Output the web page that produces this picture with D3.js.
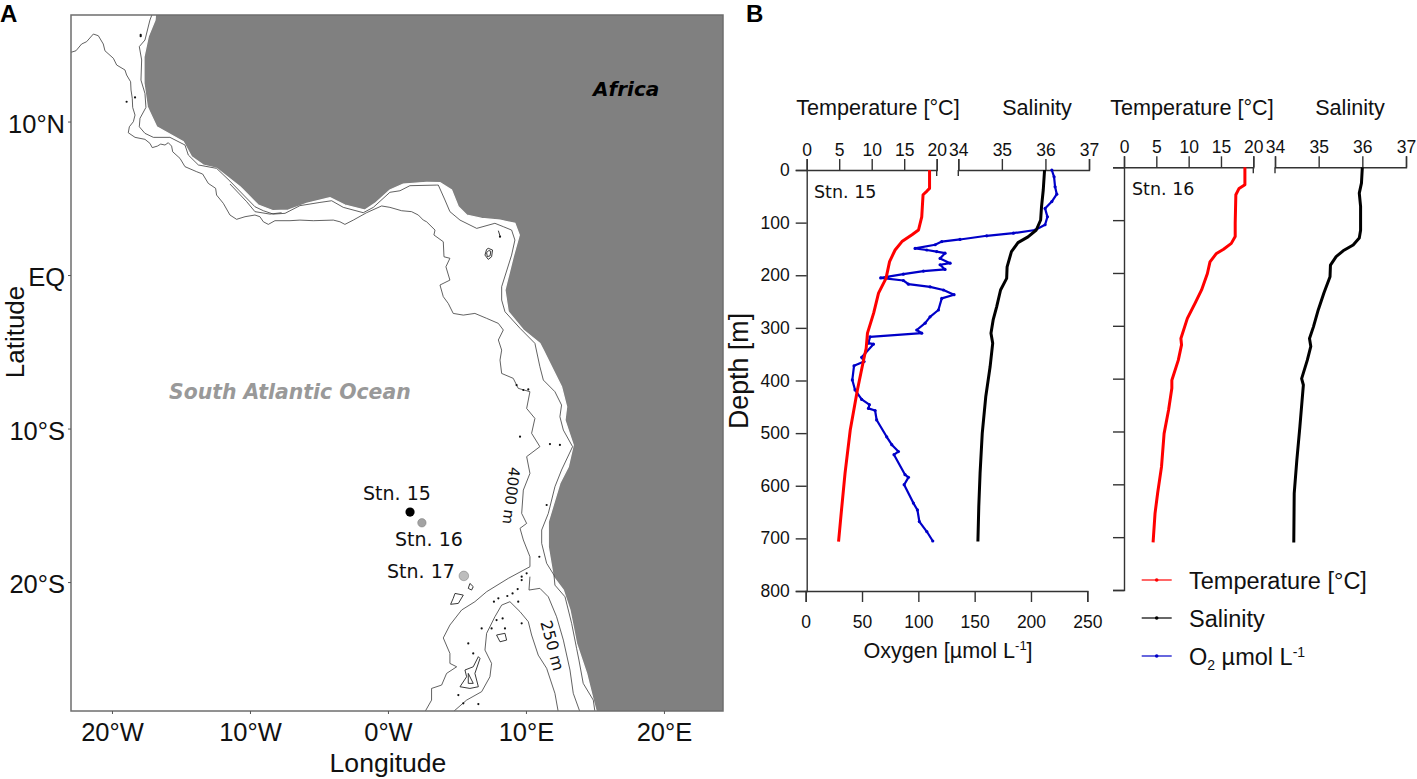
<!DOCTYPE html>
<html>
<head>
<meta charset="utf-8">
<script src="https://cdn.jsdelivr.net/npm/d3@7"></script>
<style>
body { margin: 0; background: #fff; }
svg { display: block; }
.map-text { font-family: "DejaVu Sans", sans-serif; }
.plot-text, .plot-axis text { font-family: "Liberation Sans", Arial, sans-serif; }
</style>
</head>
<body>
<svg id="chart" width="1417" height="779"></svg>
<script>
// map outlines, [lon, lat]
const coast = [[-16.8,17.5],[-16.88,16.61],[-17.37,15.53],[-17.68,14.22],[-17.68,12.49],[-17.44,10.97],[-16.76,9.66],[-14.83,8.69],[-14.23,7.71],[-13.38,7.17],[-12.42,6.95],[-10.72,5.75],[-10.48,5.54],[-9.40,4.56],[-8.31,4.19],[-7.22,4.23],[-5.89,4.67],[-4.20,5.04],[-3.12,4.56],[-1.67,4.23],[-0.94,4.67],[0.14,5.54],[1.11,5.93],[2.80,6.04],[3.77,6.02],[4.61,5.54],[5.10,4.45],[5.70,3.91],[6.79,3.69],[8.12,3.58],[9.20,3.37],[9.52,2.61],[9.08,1.19],[8.48,-0.98],[8.72,-2.39],[9.81,-3.58],[11.01,-4.45],[11.26,-4.89],[11.86,-5.97],[12.58,-7.27],[12.95,-8.58],[12.83,-9.45],[13.43,-11.07],[13.07,-12.49],[12.46,-13.57],[11.62,-16.07],[11.62,-17.70],[11.98,-19.65],[12.71,-20.52],[13.19,-21.82],[13.67,-24.00],[14.40,-25.95],[14.88,-27.69],[15.12,-28.51],[25,-28.51],[25,17.5]];

const contour4000 = [[-22.97,14.51],[-22.61,14.61],[-22.20,15.05],[-21.84,15.20],[-21.35,15.70],[-20.99,15.59],[-20.63,15.05],[-20.51,14.61],[-19.90,14.12],[-19.66,13.68],[-19.06,13.36],[-18.94,13.03],[-18.65,12.59],[-18.62,12.05],[-18.53,11.51],[-18.50,10.92],[-18.33,10.42],[-18.45,9.99],[-18.74,9.66],[-18.82,9.27],[-18.33,8.97],[-17.61,8.84],[-17.25,8.58],[-17.08,8.30],[-16.71,8.40],[-16.47,8.53],[-16.16,8.47],[-15.92,8.62],[-15.68,8.40],[-15.60,8.03],[-15.07,7.60],[-14.71,7.06],[-13.86,6.73],[-13.43,6.58],[-13.02,5.97],[-12.49,5.65],[-12.42,5.21],[-11.93,4.67],[-11.45,3.91],[-10.97,3.63],[-10.36,3.80],[-9.64,3.91],[-9.28,3.80],[-9.03,3.47],[-8.67,3.30],[-8.19,3.54],[-7.10,3.54],[-6.38,3.58],[-5.41,3.54],[-3.96,3.58],[-3.48,3.47],[-3.12,3.30],[-2.51,3.58],[-1.55,4.06],[-0.46,4.50],[0.14,4.41],[0.99,4.19],[1.71,4.13],[2.20,3.91],[2.56,3.58],[2.80,3.47],[3.41,2.93],[3.33,2.61],[4.01,2.17],[4.06,1.19],[4.49,1.09],[4.20,0.54],[4.49,-0.33],[3.77,-0.65],[4.01,-1.41],[4.37,-1.85],[4.73,-2.50],[5.46,-2.61],[6.30,-2.50],[7.15,-2.82],[8.00,-3.15],[8.36,-3.58],[8.00,-4.23],[8.24,-4.89],[8.12,-5.54],[8.24,-6.41],[9.08,-6.73],[9.44,-7.38],[10.29,-7.60],[10.05,-8.69],[10.65,-9.34],[10.41,-10.31],[11.01,-11.18],[10.05,-11.83],[10.29,-12.92],[9.81,-14.01],[9.69,-15.53],[10.05,-16.18],[9.57,-16.50],[9.81,-17.26],[10.29,-18.35],[10.29,-19.00],[8.72,-19.76],[7.15,-20.63],[6.30,-21.28],[5.34,-21.82],[4.49,-22.80],[4.01,-23.64],[4.49,-24.65],[4.49,-25.30],[4.98,-25.52],[4.25,-25.95],[3.89,-26.71],[3.16,-26.93],[3.16,-27.69],[2.68,-28.45]];

const contourShelf = [[-17.0,17.2],[-17.25,16.61],[-17.61,15.31],[-18.02,14.88],[-17.85,14.01],[-17.90,12.70],[-17.61,11.83],[-17.54,10.92],[-17.97,10.21],[-18.02,9.66],[-17.61,9.23],[-17.00,8.97],[-15.80,8.97],[-14.71,8.47],[-14.47,7.82],[-13.74,7.17],[-12.42,6.95],[-11.45,6.12],[-9.64,4.45],[-9.03,4.19],[-8.31,3.97],[-7.46,4.02],[-6.38,4.52],[-4.93,4.73],[-4.08,4.84],[-3.24,4.41],[-1.79,4.06],[-1.06,4.41],[0.14,5.39],[0.87,5.49],[1.59,5.82],[3.53,5.86],[3.65,5.86],[4.13,4.89],[4.49,4.13],[5.22,3.58],[6.43,3.04],[7.75,3.37],[8.36,3.15],[8.96,2.93],[9.20,2.28],[8.96,1.30],[8.24,-0.76],[8.24,-1.63],[8.48,-2.39],[9.57,-3.47],[10.65,-4.45],[11.01,-5.97],[11.26,-6.84],[12.10,-7.60],[12.58,-8.47],[12.46,-9.23],[12.71,-10.10],[13.38,-11.18],[12.58,-12.70],[12.10,-13.79],[11.62,-15.53],[11.14,-16.61],[11.14,-17.48],[11.50,-18.78],[12.03,-19.54],[12.10,-20.20],[12.83,-20.96],[13.31,-22.69],[13.67,-24.32],[13.84,-25.08],[14.15,-26.60],[14.88,-27.69],[15.00,-28.45]];

const contourGulf = [[-11.45,5.93],[-10.24,4.78],[-9.64,4.13],[-8.55,3.97],[-7.71,4.06]];

const contour250 = [[10.29,-19.65],[10.22,-20.52],[11.01,-20.41],[11.62,-20.96],[12.22,-22.26],[12.71,-23.78],[13.19,-25.73],[13.43,-27.25],[13.91,-28.45]];

const contourRidge = [[4.73,-28.45],[5.70,-27.69],[6.79,-27.14],[7.39,-26.17],[7.51,-25.30],[7.03,-24.43],[7.15,-23.34],[7.75,-22.26],[8.24,-21.50],[8.84,-21.28],[9.57,-21.93],[10.17,-22.58],[10.41,-23.45],[10.89,-24.76],[11.50,-25.62],[12.10,-27.25],[12.34,-28.45]];

const islands = [
  [[7.27,1.74],[7.58,1.63],[7.51,1.19],[7.27,1.02],[7.03,1.30],[7.15,1.67],[7.27,1.74]],
  [[7.30,1.60],[7.45,1.55],[7.40,1.25],[7.20,1.20],[7.15,1.45],[7.30,1.60]],
  [[4.86,-20.74],[5.46,-20.85],[5.10,-21.39],[4.54,-21.45],[4.73,-21.06],[4.86,-20.74]],
  [[5.94,-20.09],[6.18,-20.30],[6.06,-20.52],[5.82,-20.41],[5.94,-20.09]],
  [[7.87,-23.45],[8.48,-23.34],[8.60,-23.78],[8.12,-23.89],[7.87,-23.45]],
  [[5.58,-25.73],[6.18,-25.52],[6.55,-24.86],[6.67,-24.98],[6.30,-25.95],[6.55,-26.82],[5.94,-26.93],[5.22,-26.82],[5.70,-26.17],[5.58,-25.73]],
  [[5.82,-25.95],[6.18,-26.60],[5.82,-26.60],[5.82,-25.95]],
  [[8.00,2.89],[8.12,2.54]]
];
const islets = [[8.12,2.50],[-17.92,15.64],[-17.92,15.56],[-18.94,11.29],[-18.33,11.57],[9.57,-10.53],[11.74,-11.01],[12.46,-11.07],[9.81,-7.49],[10.17,-7.45],[9.32,-7.17],[9.69,-19.65],[11.50,-14.98],[10.97,-18.35],[10.05,-19.43],[8.65,-20.91],[9.03,-20.74],[7.68,-21.28],[8.00,-21.06],[9.40,-20.46],[9.69,-19.87],[9.44,-21.28],[6.79,-23.02],[7.51,-23.02],[7.87,-22.48],[8.48,-23.02],[8.31,-22.37],[9.69,-22.69],[5.46,-27.90],[6.55,-27.95],[5.82,-24.00],[6.18,-24.65],[5.10,-27.36]];

const stationNames = ["Stn. 15", "Stn. 16", "Stn. 17"];
const stationLon = [1.6, 2.46, 5.5];
const stationLat = [-15.44, -16.14, -19.6];
const stationFill = ["#000", "#a3a3a3", "#bdbdbd"];

const lonTicks = [-20, -10, 0, 10, 20];
const lonTickLabels = ["20°W", "10°W", "0°W", "10°E", "20°E"];
const latTicks = [10, 0, -10, -20];
const latTickLabels = ["10°N", "EQ", "10°S", "20°S"];

// profiles, [value, depth]
const temp15 = [[18.9,0],[18.9,35],[18.5,40],[17.9,47],[17.7,89],[17.2,114],[16.2,123],[14.65,136],[13.6,152],[12.75,174],[12.2,206],[11.05,234],[10.3,272],[9.35,310],[9.15,339],[8.75,361],[7.8,418],[6.7,494],[5.9,576],[5.4,640],[4.9,706]];
const sal15 = [[35.98,0],[35.95,38],[35.91,70],[35.89,95],[35.79,114],[35.6,127],[35.37,138],[35.22,155],[35.12,184],[35.11,206],[34.97,228],[34.88,260],[34.8,285],[34.75,310],[34.79,329],[34.73,374],[34.63,431],[34.55,500],[34.5,576],[34.47,640],[34.45,706]];
const oxy15 = [[218.5,0],[220.5,13],[221.4,32],[222.9,46],[218.5,60],[212.5,73],[214.6,89],[212.5,104],[203.7,114],[184.4,120],[160.7,125],[137,132],[120.8,136],[114.9,142],[97.1,149],[107.5,152],[116.3,155],[123.7,158],[119.3,168],[128.2,177],[119.3,180],[123.7,189],[104.5,192],[86.7,198],[66.6,205],[86.7,210],[91.2,217],[110.4,222],[122.3,228],[131.7,237],[120.8,244],[117.8,266],[110.4,279],[106,291],[98.6,304],[103,310],[57.1,317],[55.7,329],[60.1,331],[49.7,356],[51.8,364],[42.9,372],[41.4,399],[43.8,418],[49.7,436],[56.5,446],[55.7,453],[61.6,457],[63,475],[71.9,507],[76.4,522],[82.3,535],[78.4,541],[88.2,579],[91.2,584],[87.4,598],[95.6,633],[99.2,646],[100.9,668],[107.5,687],[112.8,705]];
const temp16 = [[18.7,0],[18.7,33],[17.8,40],[17.3,52],[17.2,106],[17.2,131],[16.6,144],[15.4,155],[14.3,163],[13.3,179],[12.9,201],[12,232],[11,257],[9.8,286],[8.8,324],[8.9,336],[8.4,365],[7.4,403],[7.4,418],[6.9,459],[6.2,504],[5.8,567],[5.2,617],[4.8,655],[4.5,710]];
const sal16 = [[36,0],[35.98,30],[35.93,49],[35.96,74],[35.96,119],[35.93,134],[35.79,147],[35.56,158],[35.4,169],[35.27,185],[35.26,207],[35.12,238],[34.99,270],[34.88,302],[34.79,324],[34.82,339],[34.74,365],[34.61,400],[34.65,412],[34.57,491],[34.5,554],[34.44,617],[34.43,710]];

const tempTicks = [0, 5, 10, 15, 20];
const salTicks = [34, 35, 36, 37];
const oxyTicks = [0, 50, 100, 150, 200, 250];
const depthTicks = [0, 100, 200, 300, 400, 500, 600, 700, 800];
const legendNames = ["Temperature [°C]", "Salinity"];
const legendColors = ["#ff0000", "#000000", "#0000c8"];

const svg = d3.select("#chart");

// ---- panel A ----
const map = { left: 71, right: 723, top: 15, bottom: 711 };
const lonScale = d3.scaleLinear().domain([-22.97, 24.28]).range([map.left, map.right]);
const latScale = d3.scaleLinear().domain([16.94, -28.40]).range([map.top, map.bottom]);
const mapLine = d3.line().x(d => lonScale(d[0])).y(d => latScale(d[1]));

svg.append("clipPath").attr("id", "map-clip").append("rect")
    .attr("x", map.left).attr("y", map.top)
    .attr("width", map.right - map.left).attr("height", map.bottom - map.top);

const mapG = svg.append("g").attr("clip-path", "url(#map-clip)");

mapG.append("path").attr("d", mapLine(coast))
    .attr("fill", "#808080").attr("stroke", "#fff").attr("stroke-width", 1.2);

[contour4000, contourShelf, contourGulf, contour250, contourRidge].forEach(c => {
    mapG.append("path").attr("d", mapLine(c))
        .attr("fill", "none").attr("stroke", "#3a3a3a").attr("stroke-width", 0.8);
});
islands.forEach(c => {
    mapG.append("path").attr("d", mapLine(c))
        .attr("fill", "none").attr("stroke", "#222").attr("stroke-width", 0.9);
});
mapG.selectAll(".islet").data(islets).enter().append("circle")
    .attr("class", "islet")
    .attr("cx", d => lonScale(d[0])).attr("cy", d => latScale(d[1]))
    .attr("r", 1.1).attr("fill", "#111");

svg.append("rect")
    .attr("x", map.left).attr("y", map.top)
    .attr("width", map.right - map.left).attr("height", map.bottom - map.top)
    .attr("fill", "none").attr("stroke", "#6e6e6e").attr("stroke-width", 1.5);

const lonAxis = d3.axisBottom(lonScale).tickValues(lonTicks)
    .tickFormat((d, i) => lonTickLabels[i]).tickSize(3).tickPadding(9);
const lonG = svg.append("g")
    .attr("transform", `translate(0,${map.bottom})`).call(lonAxis);
const latAxis = d3.axisLeft(latScale).tickValues(latTicks)
    .tickFormat((d, i) => latTickLabels[i]).tickSize(3).tickPadding(3);
const latG = svg.append("g")
    .attr("transform", `translate(${map.left},0)`).call(latAxis);
[lonG, latG].forEach(g => {
    g.select(".domain").remove();
    g.selectAll("line").attr("stroke", "#555");
    g.selectAll("text").style("font-family", '"Liberation Sans", Arial, sans-serif').style("font-size", "25.5px").attr("fill", "#111");
});
latG.selectAll("text").attr("dy", "0.42em");

function mapLabel(txt, x, y, size, opts) {
    const t = svg.append("text").attr("class", "map-text")
        .attr("x", x).attr("y", y)
        .style("font-size", size + "px")
        .attr("fill", (opts && opts.fill) || "#111")
        .attr("text-anchor", (opts && opts.anchor) || "start")
        .text(txt);
    if (opts && opts.bold) t.style("font-weight", "bold").style("font-style", "italic");
    if (opts && opts.rotate) t.attr("transform", `rotate(${opts.rotate},${x},${y})`);
    return t;
}

mapLabel("Longitude", 388, 772, 26.6, { anchor: "middle" }).attr("class", "plot-text");
mapLabel("Latitude", 24, 332, 26, { anchor: "middle", rotate: -90 }).attr("class", "plot-text");
mapLabel("Africa", 593, 96, 20, { bold: true, fill: "#000" });
mapLabel("South Atlantic Ocean", 169, 399, 20.4, { bold: true, fill: "#999" });
mapLabel("4000 m", 506, 495, 15, { anchor: "middle", rotate: 97 });
mapLabel("250 m", 547, 647, 16, { anchor: "middle", rotate: 75 });

const stationLabelX = [363, 395, 387];
const stationLabelY = [500, 546, 578];
stationNames.forEach((name, i) => {
    mapLabel(name, stationLabelX[i], stationLabelY[i], 19);
    svg.append("circle")
        .attr("cx", lonScale(stationLon[i])).attr("cy", latScale(stationLat[i]))
        .attr("r", i == 0 ? 4.6 : (i == 1 ? 4.2 : 4.8))
        .attr("fill", stationFill[i]).attr("stroke", i == 0 ? "none" : "#777").attr("stroke-width", 0.5);
});

svg.append("text").attr("class", "plot-text").attr("x", 0).attr("y", 22)
    .style("font-size", "24px").style("font-weight", "bold").text("A");
svg.append("text").attr("class", "plot-text").attr("x", 746).attr("y", 22)
    .style("font-size", "24px").style("font-weight", "bold").text("B");

// ---- panel B ----
function styleAxis(g) {
    g.attr("class", "plot-axis");
    g.selectAll("path,line").attr("stroke", "#333").attr("stroke-width", 1.4);
    g.selectAll("text").style("font-size", "17.5px").attr("fill", "#111");
}

function profile(conf) {
    const g = svg.append("g");
    const yScale = d3.scaleLinear().domain([0, 800]).range(conf.y);
    const tScale = d3.scaleLinear().domain([0, 20]).range(conf.tx);
    const sScale = d3.scaleLinear().domain([34, 37]).range(conf.sx);

    const yAxis = d3.axisLeft(yScale).tickValues(depthTicks).tickSizeOuter(0).tickSize(11).tickPadding(6);
    if (!conf.depthLabels) yAxis.tickFormat("");
    g.append("g").attr("transform", `translate(${conf.tx[0]},0)`).call(yAxis).call(styleAxis);

    const tAxis = d3.axisTop(tScale).tickValues(tempTicks).tickSizeOuter(0).tickSize(11).tickPadding(3);
    g.append("g").attr("transform", `translate(0,${conf.y[0]})`).call(tAxis).call(styleAxis);
    const sAxis = d3.axisTop(sScale).tickValues(salTicks).tickFormat(d3.format("d")).tickSizeOuter(0).tickSize(11).tickPadding(3);
    g.append("g").attr("transform", `translate(0,${conf.y[0]})`).call(sAxis).call(styleAxis);

    // axis break ends reach below the line
    [tScale(20), sScale(34)].forEach(x => {
        g.append("line").attr("x1", x).attr("x2", x)
            .attr("y1", conf.y[0]).attr("y2", conf.y[0] + 6)
            .attr("stroke", "#333").attr("stroke-width", 1.4);
    });

    const titles = [["Temperature [°C]", conf.titleX[0]], ["Salinity", conf.titleX[1]]];
    titles.forEach(t => {
        g.append("text").attr("class", "plot-text").attr("x", t[1]).attr("y", 115)
            .attr("text-anchor", "middle").style("font-size", "21.6px").attr("fill", "#111").text(t[0]);
    });

    g.append("text").attr("class", "map-text")
        .attr("x", conf.stnX).attr("y", conf.y[0] + 28)
        .style("font-size", "17.5px").attr("fill", "#111").text(conf.name);

    const drawLine = (data, scale, color, w) => {
        g.append("path").datum(data)
            .attr("d", d3.line().x(d => scale(d[0])).y(d => yScale(d[1])))
            .attr("fill", "none").attr("stroke", color).attr("stroke-width", w)
            .attr("stroke-linejoin", "round");
    };
    if (conf.oxy) {
        const oScale = d3.scaleLinear().domain([0, 250]).range(conf.ox);
        const oAxis = d3.axisBottom(oScale).tickValues(oxyTicks).tickSizeOuter(0).tickSize(11).tickPadding(14);
        g.append("g").attr("transform", `translate(0,${conf.y[1]})`).call(oAxis).call(styleAxis);
        drawLine(conf.oxy, oScale, legendColors[2], 2.2);
        g.selectAll(".oxy-dot").data(conf.oxy).enter().append("circle")
            .attr("class", "oxy-dot")
            .attr("cx", d => oScale(d[0])).attr("cy", d => yScale(d[1]))
            .attr("r", 1.6).attr("fill", legendColors[2]);
    }
    drawLine(conf.sal, sScale, legendColors[1], 3);
    drawLine(conf.temp, tScale, legendColors[0], 3);
}

profile({
    name: "Stn. 15", y: [170, 591], tx: [806.7, 936.7], sx: [958.3, 1089], ox: [805.7, 1087.3],
    titleX: [878, 1037], stnX: 814, depthLabels: true,
    temp: temp15, sal: sal15, oxy: oxy15
});
profile({
    name: "Stn. 16", y: [167.3, 590], tx: [1124, 1253.3], sx: [1275, 1406],
    titleX: [1192, 1350], stnX: 1132, depthLabels: false,
    temp: temp16, sal: sal16
});

svg.append("text").attr("class", "plot-text")
    .attr("transform", "translate(748,371) rotate(-90)")
    .attr("text-anchor", "middle").style("font-size", "26.8px").attr("fill", "#111").text("Depth [m]");

const oxyTitle = svg.append("text").attr("class", "plot-text")
    .attr("x", 948).attr("y", 658).attr("text-anchor", "middle")
    .style("font-size", "21.6px").attr("fill", "#111");
oxyTitle.append("tspan").text("Oxygen [µmol L");
oxyTitle.append("tspan").attr("dy", -8).style("font-size", "13px").text("-1");
oxyTitle.append("tspan").attr("dy", 8).text("]");

// legend
const legendY = [580, 618, 656];
legendColors.forEach((c, i) => {
    svg.append("line").attr("x1", 1141.7).attr("x2", 1171.7)
        .attr("y1", legendY[i]).attr("y2", legendY[i])
        .attr("stroke", c).attr("stroke-width", 1.2);
    svg.append("circle").attr("cx", 1156.7).attr("cy", legendY[i]).attr("r", 1.8).attr("fill", c);
    const t = svg.append("text").attr("class", "plot-text")
        .attr("x", 1189).attr("y", legendY[i] + 9)
        .style("font-size", "23.5px").attr("fill", "#111");
    if (i < 2) {
        t.text(legendNames[i]);
    } else {
        t.append("tspan").text("O");
        t.append("tspan").attr("dy", 5).style("font-size", "14px").text("2");
        t.append("tspan").attr("dy", -5).text(" µmol L");
        t.append("tspan").attr("dy", -8).style("font-size", "14px").text("-1");
    }
});
</script>
</body>
</html>
